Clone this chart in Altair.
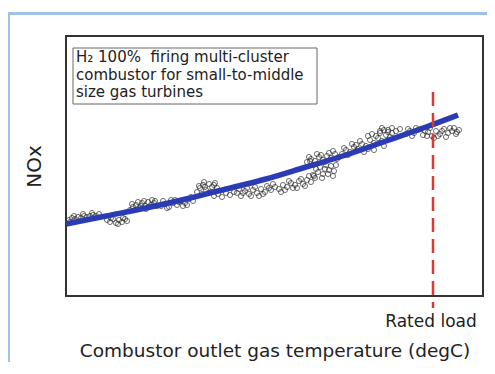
import altair as alt
import pandas as pd

# Scatter measurements (arbitrary units: temperature index, NOx index)
pts_x = [3, 6, 9, 12, 15, 18, 21, 24, 27, 30, 33, 8, 17, 26, 4,
         41, 44, 47, 50, 53, 56, 59, 61, 45, 52, 57,
         64, 67, 70, 73, 76, 79, 82, 85, 88, 91, 72, 80, 86,
         66, 69, 75, 78, 83, 89,
         95, 99, 103, 107, 111, 115, 119, 123, 127, 105, 117,
         97, 101, 109, 113, 121, 125,
         131, 134, 137, 140, 143, 146, 149, 151, 136, 145,
         133, 139, 142, 148, 138,
         148, 152, 156, 160, 164, 168,
         171, 175, 179, 183, 187, 191, 195, 199, 203, 181, 193,
         173, 177, 185, 189, 197, 201,
         205, 209, 213, 217, 221, 225, 229, 233, 237, 241, 245, 249, 215, 231, 243,
         207, 219, 223, 227, 235, 239, 247,
         241, 245, 249, 253, 257, 261, 265, 269, 273, 251, 263, 247,
         243, 255, 259, 267, 271, 244,
         248, 252, 256, 259, 262, 265, 268, 270, 254,
         250, 257, 263, 267, 260,
         276, 280, 284, 288, 292, 296, 300, 304, 308, 312, 316, 320, 324, 306, 314, 318, 298, 322,
         278, 282, 286, 290, 294, 302, 310, 302, 326, 316, 290, 308,
         314, 318, 322, 326, 330, 334,
         340, 344, 348, 352, 357, 362, 366, 370, 374, 378, 382, 386, 390, 393, 368, 380, 355, 388,
         342, 346, 350, 359, 364, 372, 376, 384, 391, 361]
pts_y = [76, 78, 77, 79, 78, 80, 79, 80, 81, 80, 82, 80, 82, 83, 74,
         76, 74, 77, 73, 76, 74, 77, 75, 78, 72, 78,
         86, 89, 91, 88, 93, 90, 94, 91, 93, 90, 94, 87, 96,
         92, 86, 90, 95, 89, 95,
         90, 92, 89, 93, 91, 95, 93, 97, 95, 96, 90,
         95, 88, 96, 94, 91, 99,
         104, 108, 111, 106, 112, 109, 113, 108, 102, 104,
         110, 109, 103, 111, 114,
         100, 102, 99, 103, 101, 104,
         103, 100, 105, 102, 106, 103, 107, 104, 108, 108, 100,
         107, 103, 100, 109, 102, 110,
         106, 109, 107, 111, 109, 113, 111, 115, 112, 116, 114, 118, 104, 108, 120,
         112, 106, 115, 108, 117, 110, 121,
         134, 137, 135, 139, 136, 140, 138, 142, 139, 142, 143, 131,
         139, 141, 134, 145, 137, 135,
         120, 124, 118, 127, 122, 130, 125, 131, 129,
         127, 122, 126, 120, 131,
         142, 146, 144, 149, 147, 152, 150, 156, 153, 158, 155, 161, 159, 162, 165, 150, 144, 166,
         148, 141, 152, 145, 155, 147, 160, 160, 163, 168, 151, 146,
         163, 166, 164, 168, 165, 167,
         162, 165, 163, 166, 161, 164, 160, 165, 162, 167, 163, 165, 162, 166, 158, 159, 167, 168,
         167, 160, 168, 165, 168, 160, 165, 168, 164, 160]

# Trend curve
curve_x = [0, 40, 80, 120, 160, 200, 240, 280, 320, 360, 392]
curve_y = [72, 80, 88, 97, 107, 117, 129, 141, 155, 169, 181]

rated_load_x = 367

legend_lines = ["H\u2082 100%\u00a0\u00a0firing multi-cluster",
                "combustor for small-to-middle",
                "size gas turbines"]

x_title = "Combustor outlet gas temperature (degC)"
y_title = "NOx"

FONT = "DejaVu Sans"

pts = pd.DataFrame({"t": pts_x, "nox": pts_y})
curve = pd.DataFrame({"t": curve_x, "nox": curve_y})

xs = alt.Scale(domain=[0, 417], nice=False, zero=False)
ys = alt.Scale(domain=[0, 260], nice=False, zero=False)

x_axis = alt.Axis(labels=False, ticks=False, domain=False, grid=False,
                  title=x_title, titleFont=FONT, titleFontSize=18.5,
                  titleFontWeight="normal", titleColor="#222", titlePadding=45)
y_axis = alt.Axis(labels=False, ticks=False, domain=False, grid=False,
                  title=y_title, titleFont=FONT, titleFontSize=20,
                  titleFontWeight="normal", titleColor="#222", titlePadding=22)

scatter = alt.Chart(pts).mark_point(
    shape="circle", filled=False, size=26, color="#2a2a2a",
    strokeWidth=0.9, opacity=0.75
).encode(
    x=alt.X("t:Q", scale=xs, axis=x_axis),
    y=alt.Y("nox:Q", scale=ys, axis=y_axis),
)

line = alt.Chart(curve).mark_line(
    color="#2B3BB6", strokeWidth=5.5, interpolate="monotone"
).encode(x=alt.X("t:Q", scale=xs), y=alt.Y("nox:Q", scale=ys))

one = alt.Data(values=[{"v": rated_load_x}])

rule = alt.Chart(one).mark_rule(
    color="#D93A35", strokeWidth=2.5, strokeDash=[14, 7]
).encode(
    x=alt.X("v:Q", scale=xs),
    y=alt.value(56), y2=alt.value(272),
)

rated = alt.Chart(one).mark_text(
    text="Rated load", font=FONT, fontSize=17, color="#222",
    baseline="middle", align="center", dx=-2
).encode(x=alt.X("v:Q", scale=xs), y=alt.value(286))

box = alt.Chart(one).mark_rect(
    fill="white", stroke="#666", strokeWidth=1
).encode(x=alt.value(7), x2=alt.value(251), y=alt.value(12), y2=alt.value(68))

legend_text = alt.Chart(one).mark_text(
    text=legend_lines, font=FONT, fontSize=15, lineHeight=17.5,
    align="left", baseline="top", color="#222"
).encode(x=alt.value(10), y=alt.value(14))

border_top = alt.Chart(one).mark_rule(color="#9DC3E6", strokeWidth=3).encode(
    x=alt.value(-59), x2=alt.value(430), y=alt.value(-22.5))
border_left = alt.Chart(one).mark_rule(color="#9DC3E6", strokeWidth=3).encode(
    x=alt.value(-57.5), y=alt.value(-24), y2=alt.value(330))

chart = alt.layer(
    border_top, border_left, scatter, line, rule, rated, box, legend_text
).properties(
    width=417, height=260,
    autosize=alt.AutoSizeParams(type="none"),
    padding={"left": 58, "top": 28, "right": 4, "bottom": 66},
    background="white",
).configure_view(stroke="#333", strokeWidth=2)

chart.save("out.html", embed_options={"renderer": "svg", "actions": False})
